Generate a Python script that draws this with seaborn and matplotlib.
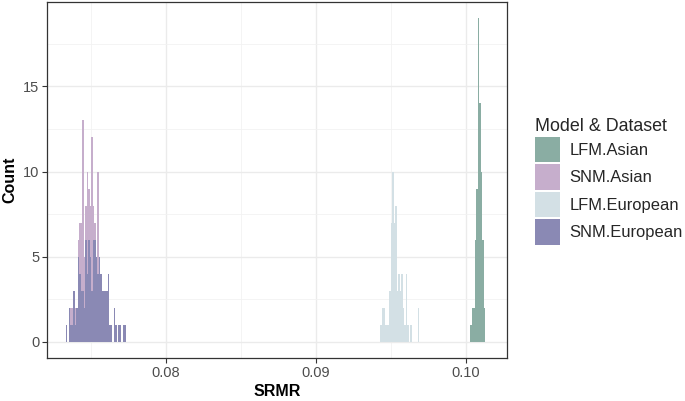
import numpy as np
import pandas as pd
import matplotlib
matplotlib.use('Agg')
import matplotlib.pyplot as plt
import seaborn as sns

# bin counts (common binwidth, bars are stacked)
binwidth = 0.0001
x_min, x_max = 0.0733, 0.1013

groups = ['LFM.Asian', 'SNM.Asian', 'LFM.European', 'SNM.European']
colors = ['#8AADA3', '#C6AECC', '#D3E0E5', '#8A89B4']

lfm_asian_start = 0.1003
lfm_asian_counts = [1, 2, 2, 6, 9, 19, 14, 10, 6, 2]

snm_asian_start = 0.0733
snm_asian_counts = [0, 0, 0, 1, 1, 0, 1, 0, 1, 3, 4, 10, 3, 2, 6, 3, 3, 9, 2, 1,
                    0, 6, 0, 0, 0, 0, 0, 0, 0, 0, 0, 0, 0, 0, 0, 0, 0, 0, 0, 0]

lfm_euro_start = 0.0943
lfm_euro_counts = [1, 2, 2, 1, 1, 1, 3, 7, 10, 7, 8, 3, 4, 3, 4, 2, 1, 4, 1, 0,
                   1, 0, 0, 0, 0, 2]

snm_euro_start = 0.0733
snm_euro_counts = [1, 0, 2, 1, 1, 3, 1, 2, 5, 4, 3, 3, 2, 6, 4, 6, 5, 3, 6, 6,
                   5, 4, 5, 4, 3, 3, 3, 3, 4, 1, 1, 0, 2, 1, 0, 1, 1, 0, 1, 1]

starts = [lfm_asian_start, snm_asian_start, lfm_euro_start, snm_euro_start]
counts = [lfm_asian_counts, snm_asian_counts, lfm_euro_counts, snm_euro_counts]

parts = []
for name, st, cnt in zip(groups, starts, counts):
    centers = st + binwidth * (np.arange(len(cnt)) + 0.5)
    parts.append(pd.DataFrame({'SRMR': centers, 'n': cnt, 'Model & Dataset': name}))
df = pd.concat(parts, ignore_index=True)

sns.set_theme(style='white')
plt.rcParams['font.family'] = ['Liberation Sans', 'DejaVu Sans']

fig = plt.figure(figsize=(6.85, 4.01), dpi=100)
ax = fig.add_axes([0.0686, 0.107, 0.6715, 0.888])

n_bins = int(round((x_max - x_min) / binwidth))
sns.histplot(data=df, x='SRMR', weights='n', hue='Model & Dataset',
             hue_order=groups, palette=dict(zip(groups, colors)),
             multiple='stack', bins=n_bins, binrange=(x_min, x_max),
             alpha=1, linewidth=0, legend=False, ax=ax, zorder=3)

handles = [plt.Rectangle((0, 0), 1, 1, facecolor=c, linewidth=0) for c in colors]

ax.set_xlim(0.07206, 0.10276)
ax.set_ylim(-0.95, 19.95)
ax.set_xticks([0.08, 0.09, 0.10])
ax.set_xticklabels(['0.08', '0.09', '0.10'])
ax.set_xticks([0.075, 0.085, 0.095], minor=True)
ax.set_yticks([0, 5, 10, 15])
ax.set_yticks([2.5, 7.5, 12.5, 17.5], minor=True)

ax.grid(which='major', color='#EBEBEB', linewidth=1.0, zorder=0)
ax.grid(which='minor', color='#F2F2F2', linewidth=0.6, zorder=0)
ax.set_axisbelow(True)
for s in ax.spines.values():
    s.set_color('#333333')
    s.set_linewidth(0.9)

ax.tick_params(which='major', length=3.5, width=0.8, color='#333333',
               labelsize=10.5, labelcolor='#4D4D4D', pad=2,
               bottom=True, left=True)
ax.tick_params(which='minor', length=0)

ax.set_xlabel('SRMR', fontsize=11.5, fontweight='bold', color='black', labelpad=3)
ax.set_ylabel('Count', fontsize=11.5, fontweight='bold', color='black', labelpad=4)

leg = fig.legend(handles, groups, title='Model & Dataset', loc='upper left',
                 bbox_to_anchor=(0.781, 0.706), frameon=False, fontsize=11.9,
                 title_fontsize=12.9, handlelength=1.5, handleheight=2.0,
                 labelspacing=0.12, handletextpad=0.6, borderpad=0,
                 borderaxespad=0, alignment='left')

fig.savefig('out.png', dpi=100)
